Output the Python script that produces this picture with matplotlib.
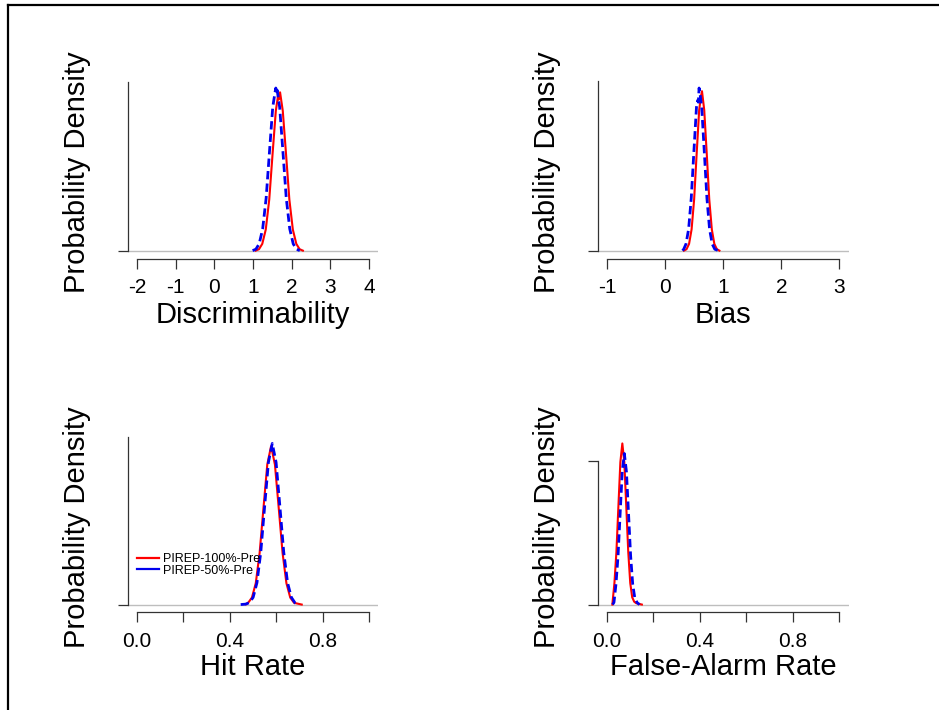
import matplotlib
matplotlib.use("Agg")
import matplotlib.pyplot as plt
from matplotlib.lines import Line2D

plt.rcParams['font.family'] = ['Liberation Sans', 'DejaVu Sans']

# ---------------- data ----------------
labels = ["PIREP-100%-Pre", "PIREP-50%-Pre"]

# Discriminability
disc_red_x = [1.07, 1.155, 1.24, 1.33, 1.42, 1.505, 1.59, 1.65, 1.665, 1.68, 1.70, 1.77, 1.855, 1.94, 2.03, 2.12, 2.205, 2.29]
disc_red_y = [0.005, 0.025, 0.10, 0.30, 0.72, 1.35, 1.96, 2.18, 2.12, 2.20, 2.22, 1.96, 1.35, 0.72, 0.30, 0.10, 0.025, 0.005]
disc_blue_x = [0.99, 1.075, 1.16, 1.25, 1.34, 1.425, 1.51, 1.57, 1.59, 1.61, 1.625, 1.69, 1.775, 1.86, 1.95, 2.04, 2.125, 2.21]
disc_blue_y = [0.005, 0.025, 0.10, 0.31, 0.74, 1.38, 2.01, 2.22, 2.28, 2.20, 2.25, 2.01, 1.38, 0.74, 0.31, 0.10, 0.025, 0.005]

# Bias
bias_red_x = [0.325, 0.369, 0.4125, 0.456, 0.50, 0.543, 0.5865, 0.62, 0.63, 0.635, 0.6735, 0.717, 0.76, 0.804, 0.8475, 0.891, 0.935]
bias_red_y = [0.01, 0.05, 0.20, 0.61, 1.46, 2.74, 3.98, 4.40, 4.45, 4.51, 3.98, 2.74, 1.46, 0.61, 0.20, 0.05, 0.01]
bias_blue_x = [0.30, 0.32, 0.36, 0.405, 0.45, 0.495, 0.54, 0.56, 0.572, 0.585, 0.60, 0.63, 0.675, 0.72, 0.765, 0.81, 0.855, 0.92]
bias_blue_y = [0.01, 0.05, 0.20, 0.62, 1.49, 2.79, 4.06, 4.25, 4.20, 4.60, 4.45, 4.06, 2.79, 1.49, 0.62, 0.20, 0.05, 0.01]

# Hit Rate
hit_red_x = [0.47, 0.479, 0.4955, 0.512, 0.5285, 0.545, 0.5615, 0.578, 0.5945, 0.611, 0.6275, 0.644, 0.6605, 0.677, 0.71]
hit_red_y = [0.02, 0.13, 0.53, 1.62, 3.90, 7.28, 10.6, 12.0, 10.6, 7.28, 3.90, 1.62, 0.53, 0.13, 0.00]
hit_blue_x = [0.447, 0.4675, 0.484, 0.5005, 0.517, 0.5335, 0.550, 0.5665, 0.583, 0.5995, 0.616, 0.6325, 0.649, 0.6655, 0.682, 0.69]
hit_blue_y = [0.00, 0.03, 0.14, 0.54, 1.65, 3.96, 7.40, 10.77, 12.2, 10.77, 7.40, 3.96, 1.65, 0.54, 0.10, 0.00]

# False-Alarm Rate
fa_red_x = [0.023, 0.032, 0.0405, 0.049, 0.0575, 0.066, 0.0745, 0.083, 0.0915, 0.100, 0.1085, 0.117, 0.125, 0.15]
fa_red_y = [0.0, 3.0, 7.3, 13.6, 19.8, 22.4, 19.8, 13.6, 7.3, 3.0, 1.0, 0.4, 0.2, 0.0]
fa_blue_x = [0.024, 0.030, 0.0386, 0.0476, 0.0566, 0.0656, 0.0746, 0.0836, 0.0926, 0.1016, 0.1106, 0.1196, 0.13, 0.14]
fa_blue_y = [0.0, 0.3, 2.84, 6.8, 12.7, 18.5, 21.0, 18.5, 12.7, 6.8, 2.84, 0.92, 0.25, 0.0]

xlabels = ["Discriminability", "Bias", "Hit Rate", "False-Alarm Rate"]
xticks = [[-2, -1, 0, 1, 2, 3, 4], [-1, 0, 1, 2, 3],
          [0.0, 0.2, 0.4, 0.6, 0.8, 1.0], [0.0, 0.2, 0.4, 0.6, 0.8, 1.0]]
xticklabels = [["-2", "-1", "0", "1", "2", "3", "4"], ["-1", "0", "1", "2", "3"],
               ["0.0", "", "0.4", "", "0.8", ""], ["0.0", "", "0.4", "", "0.8", ""]]
yticks = [[0], [0], [0], [0, 20]]

# ---------------- layout ----------------
W, H = 939, 710
fig = plt.figure(figsize=(W / 100, H / 100), dpi=100)

def box(x0, x1, y0, y1):
    return [x0 / W, 1 - y1 / H, (x1 - x0) / W, (y1 - y0) / H]

cols = [(127.7, 378.3), (597.7, 848.7)]
rows = [(81.5, 257.5), (437.0, 611.0)]

panels = [
    (disc_red_x, disc_red_y, disc_blue_x, disc_blue_y),
    (bias_red_x, bias_red_y, bias_blue_x, bias_blue_y),
    (hit_red_x, hit_red_y, hit_blue_x, hit_blue_y),
    (fa_red_x, fa_red_y, fa_blue_x, fa_blue_y),
]

RED = "#FF0000"
BLUE = "#0000EE"
AX_COL = "#333333"

for i, (rx, ry, bx, by) in enumerate(panels):
    r, c = divmod(i, 2)
    x0, x1 = cols[c]
    y0, y1 = rows[r]
    ax = fig.add_axes(box(x0, x1, y0, y1))
    ax.patch.set_alpha(0)
    xt = xticks[i]
    span = xt[-1] - xt[0]
    ax.set_xlim(xt[0] - 0.04 * span, xt[-1] + 0.04 * span)
    P = max(max(ry), max(by))
    ax.set_ylim(-0.04 * P, 1.04 * P)

    ax.axhline(0, color="#BEBEBE", lw=1.0, zorder=1)
    ax.plot(rx, ry, color=RED, lw=1.5, zorder=2)
    ax.plot(bx, by, color=BLUE, lw=2.0, dashes=(3, 1.5), zorder=3)

    for s in ("top", "right"):
        ax.spines[s].set_visible(False)
    ax.spines["bottom"].set_bounds(xt[0], xt[-1])
    ax.spines["bottom"].set_position(("outward", 1))
    yt = yticks[i]
    ax.spines["left"].set_bounds(0, yt[-1] if len(yt) > 1 else 1.04 * P)
    for s in ("bottom", "left"):
        ax.spines[s].set_color(AX_COL)
        ax.spines[s].set_linewidth(0.9)

    ax.set_xticks(xt)
    ax.set_xticklabels(xticklabels[i])
    ax.set_yticks(yt)
    ax.set_yticklabels([""] * len(yt))
    ax.tick_params(axis="both", direction="out", length=7, width=0.9, color=AX_COL,
                   labelsize=15, pad=7.0)

    # axis titles
    cx = (x0 + x1) / 2
    base = 323 if r == 0 else 675
    fig.text(cx / W, 1 - base / H, xlabels[i], fontsize=21, ha="center", va="baseline")
    ylx = 85 if c == 0 else 555
    yly = 172.5 if r == 0 else 526.7
    fig.text(ylx / W, 1 - yly / H, "Probability Density", fontsize=21, rotation=90,
             rotation_mode="anchor", ha="center", va="baseline")

    if i == 2:
        handles = [Line2D([], [], color=RED, lw=1.6), Line2D([], [], color=BLUE, lw=1.6)]
        ax.legend(handles, labels, loc="upper left",
                  bbox_to_anchor=(137 / W, 1 - 553 / H), bbox_transform=fig.transFigure,
                  frameon=False, fontsize=9, handlelength=1.75, handletextpad=0.35,
                  labelspacing=-0.02, borderpad=0, borderaxespad=0)

# outer frame (left and top edges)
fig.add_artist(Line2D([8 / W, 8 / W], [0, 1 - 5 / H], color="black", lw=1.6,
                      transform=fig.transFigure))
fig.add_artist(Line2D([8 / W, 1], [1 - 5 / H, 1 - 5 / H], color="black", lw=1.6,
                      transform=fig.transFigure))

fig.savefig("out.png", dpi=100, facecolor="white")
